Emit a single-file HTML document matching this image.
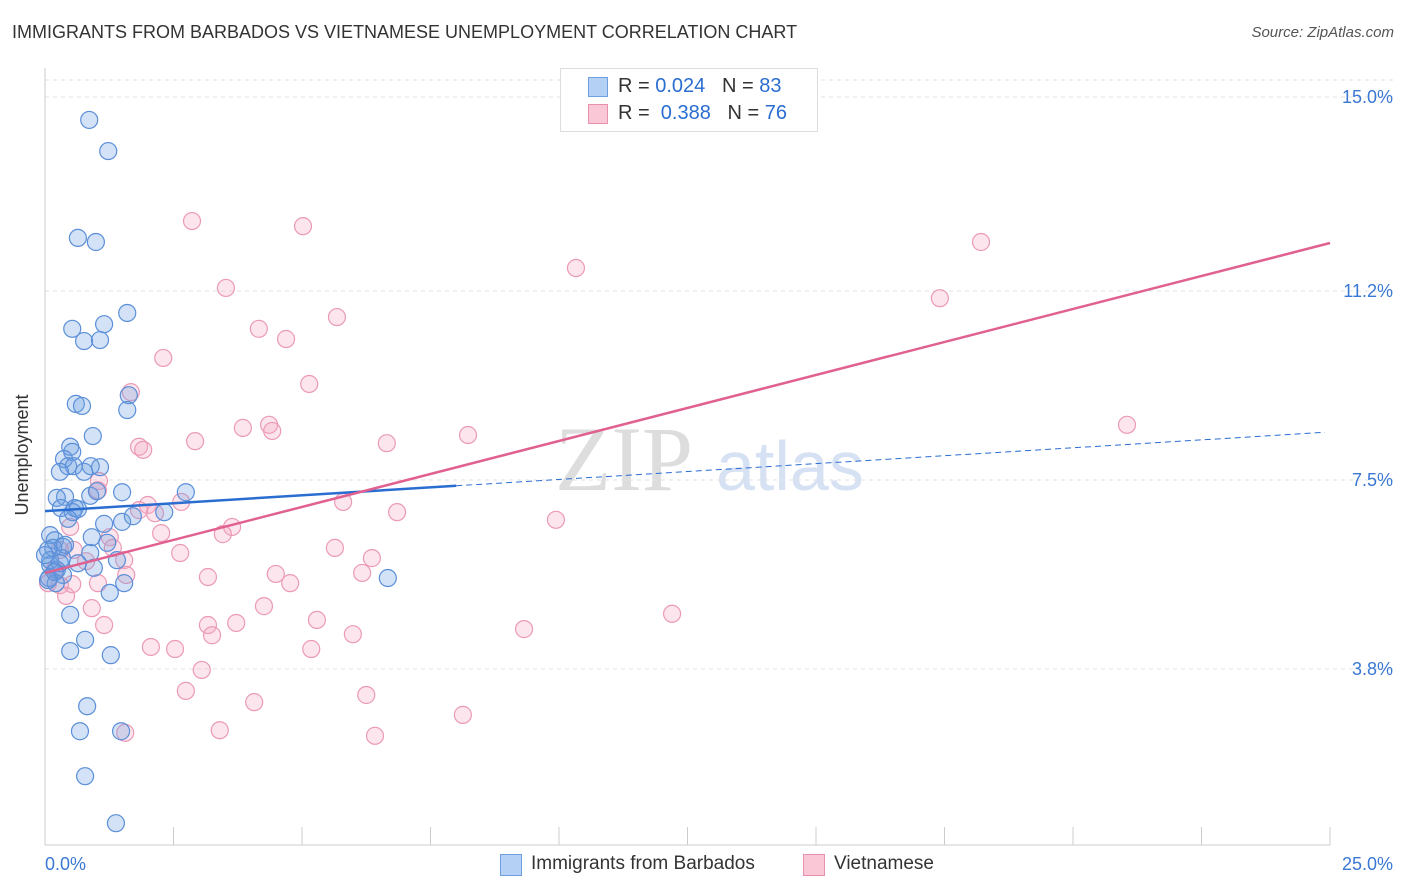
<!DOCTYPE html>
<html><head><meta charset="utf-8"><style>
body{margin:0;background:#fff;font-family:"Liberation Sans",sans-serif;}
#wrap{position:relative;width:1406px;height:892px;overflow:hidden;}
.t{position:absolute;white-space:nowrap;}
</style></head><body>
<div id="wrap">
<div class="t" style="left:12px;top:22px;font-size:18px;color:#333;">IMMIGRANTS FROM BARBADOS VS VIETNAMESE UNEMPLOYMENT CORRELATION CHART</div>
<div class="t" style="right:12px;top:24px;font-size:15px;color:#555;font-style:italic;">Source: ZipAtlas.com</div>
<svg id="chart" width="1406" height="892" style="position:absolute;left:0;top:0">
<text x="555" y="490" font-family="Liberation Serif,serif" font-size="92" fill="#ddd">ZIP</text>
<text x="716" y="490" font-family="Liberation Sans,sans-serif" font-size="70" fill="#d6e2f3">atlas</text>
<g id="grid"></g><g id="axes"></g><g id="pts"></g><g id="lines"></g>
<text x="28" y="455" transform="rotate(-90 28 455)" text-anchor="middle" font-size="18" fill="#333">Unemployment</text>
</svg>
<div style="position:absolute;left:560px;top:68px;width:256px;height:62px;border:1px solid #ddd;background:#fff;font-size:20px;color:#333;">
 <div style="position:absolute;left:27px;top:8px;width:18px;height:18px;background:#b5d0f5;border:1px solid #6f9fe0;"></div>
 <div class="t" style="left:57px;top:6px;">R = <span style="color:#2a6dd1">0.024</span>&nbsp;&nbsp;&nbsp;N = <span style="color:#2a6dd1">83</span></div>
 <div style="position:absolute;left:27px;top:35px;width:18px;height:18px;background:#f9c7d6;border:1px solid #e891ad;"></div>
 <div class="t" style="left:57px;top:33px;">R = &nbsp;<span style="color:#2a6dd1">0.388</span>&nbsp;&nbsp;&nbsp;N = <span style="color:#2a6dd1">76</span></div>
</div>
<div style="position:absolute;left:500px;top:854px;width:20px;height:20px;background:#b5d0f5;border:1px solid #6f9fe0;"></div>
<div class="t" style="left:531px;top:853px;font-size:19px;color:#333;">Immigrants from Barbados</div>
<div style="position:absolute;left:803px;top:854px;width:20px;height:20px;background:#f9c7d6;border:1px solid #e891ad;"></div>
<div class="t" style="left:834px;top:853px;font-size:19px;color:#333;">Vietnamese</div>
</div>
<script>
const blueX=[0.86,1.23,0.64,0.99,1.60,0.53,1.15,0.76,1.07,0.60,0.72,1.63,1.60,0.93,0.49,0.53,0.37,0.45,0.56,0.29,0.76,0.89,1.07,1.50,2.74,0.39,0.23,0.88,1.01,0.58,0.31,0.54,0.64,0.45,1.15,1.50,1.71,2.32,0.91,1.21,0.10,0.19,0.35,0.06,0.88,0.33,0.64,1.40,0.10,0.23,0.35,0.08,0.21,0.95,1.54,1.26,0.49,6.67,0.78,0.49,1.28,0.82,0.68,1.48,0.78,1.38,0.16,0.10,0.29,0.19,0.0,0.39,0.06];
const blueY=[14.55,13.94,12.24,12.16,10.77,10.46,10.55,10.22,10.24,8.99,8.95,9.16,8.87,8.36,8.15,8.05,7.91,7.77,7.77,7.66,7.66,7.77,7.75,7.26,7.26,7.17,7.15,7.19,7.28,6.95,6.95,6.87,6.93,6.74,6.64,6.68,6.79,6.87,6.38,6.27,6.42,6.32,6.19,6.13,6.07,5.97,5.87,5.93,5.84,5.74,5.64,5.58,5.48,5.78,5.48,5.29,4.86,5.58,4.37,4.15,4.07,3.07,2.58,2.58,1.70,0.78,6.17,5.93,5.87,5.70,6.03,6.23,5.54];
const pinkX=[10.27,2.86,5.02,18.21,10.33,3.52,17.41,5.68,4.16,4.69,2.30,5.14,1.67,21.05,3.85,4.36,4.42,6.65,8.23,2.92,1.83,1.91,1.05,1.03,2.65,2.00,2.14,5.80,6.85,9.94,0.49,3.64,3.46,2.26,1.26,5.64,2.63,6.36,0.56,1.32,1.54,0.80,1.58,3.17,4.49,6.17,4.77,1.03,0.06,0.53,0.29,0.41,0.91,4.26,5.29,12.20,1.15,3.17,3.72,3.25,5.99,9.32,2.06,2.53,5.18,3.05,2.74,6.25,4.07,8.13,3.40,6.42,1.56,1.83,0.29,0.19];
const pinkY=[14.55,12.57,12.47,12.16,11.65,11.26,11.06,10.69,10.46,10.26,9.89,9.38,9.22,8.58,8.52,8.58,8.46,8.22,8.38,8.26,8.15,8.09,7.48,7.30,7.07,7.01,6.85,7.07,6.87,6.72,6.58,6.58,6.44,6.46,6.38,6.17,6.07,5.97,6.13,6.17,5.93,5.91,5.64,5.60,5.66,5.68,5.48,5.48,5.48,5.46,5.44,5.23,4.99,5.03,4.76,4.88,4.66,4.66,4.70,4.46,4.48,4.58,4.23,4.19,4.19,3.78,3.37,3.29,3.15,2.90,2.60,2.49,2.55,6.91,6.13,5.74];
const yTicks=[15.0,11.2,7.5,3.8];
const yTickLabels=["15.0%","11.2%","7.5%","3.8%"];
const xTickLabels=["0.0%","25.0%"];
const blueTrend=[6.89,8.44];
const pinkTrend=[5.68,12.14];
const blueSolidEnd=8.0;
const NS="http://www.w3.org/2000/svg";
const X=v=>45+v*51.4, Y=v=>863-v*51.07;
function mk(parent,tag,attrs){const e=document.createElementNS(NS,tag);for(const k in attrs)e.setAttribute(k,attrs[k]);document.getElementById(parent).appendChild(e);return e;}
let e;
e=mk('grid','line',{x1:45,x2:1395,y1:80,y2:80,stroke:'#e2e2e2','stroke-dasharray':'4,4'});


yTicks.forEach((t,i)=>{
 e=mk('grid','line',{x1:45,x2:1395,y1:Y(t),y2:Y(t),stroke:'#e2e2e2','stroke-dasharray':'4,4'});
 
 
 e=mk('grid','text',{x:1393,y:Y(t)+6,'text-anchor':'end','font-size':18,fill:'#3a78d4'});
 e.textContent=yTickLabels[i];
 
 
});
e=mk('axes','line',{x1:45,x2:45,y1:68,y2:845,stroke:'#ccc'});


e=mk('axes','line',{x1:45,x2:1330,y1:845,y2:845,stroke:'#ccc'});


for(let i=0;i<=10;i++){
 e=mk('axes','line',{x1:X(i*2.5),x2:X(i*2.5),y1:827,y2:845,stroke:'#ccc'});
 
 
}
e=mk('axes','text',{x:45,y:870,'font-size':18,fill:'#3a78d4'});e.textContent=xTickLabels[0];


e=mk('axes','text',{x:1393,y:870,'text-anchor':'end','font-size':18,fill:'#3a78d4'});e.textContent=xTickLabels[1];


pinkX.forEach((x,i)=>{
 e=mk('pts','circle',{cx:X(x),cy:Y(pinkY[i]),r:8.5,fill:'rgba(244,170,195,0.3)',stroke:'#eb9ab5','stroke-width':1.2});
 
 
});
blueX.forEach((x,i)=>{
 e=mk('pts','circle',{cx:X(x),cy:Y(blueY[i]),r:8.5,fill:'rgba(110,160,225,0.3)',stroke:'#5b8fd8','stroke-width':1.2});
 
 
});
const bAt=v=>blueTrend[0]+(blueTrend[1]-blueTrend[0])*v/25;
e=mk('lines','line',{x1:X(0),y1:Y(bAt(0)),x2:X(blueSolidEnd),y2:Y(bAt(blueSolidEnd)),stroke:'#2a6dd1','stroke-width':2.5});


e=mk('lines','line',{x1:X(blueSolidEnd),y1:Y(bAt(blueSolidEnd)),x2:X(24.9),y2:Y(bAt(24.9)),stroke:'#2a6dd1','stroke-width':1,'stroke-dasharray':'6,4'});


e=mk('lines','line',{x1:X(0),y1:Y(pinkTrend[0]),x2:X(25),y2:Y(pinkTrend[1]),stroke:'#e0608f','stroke-width':2.5});


</script>
</body></html>
